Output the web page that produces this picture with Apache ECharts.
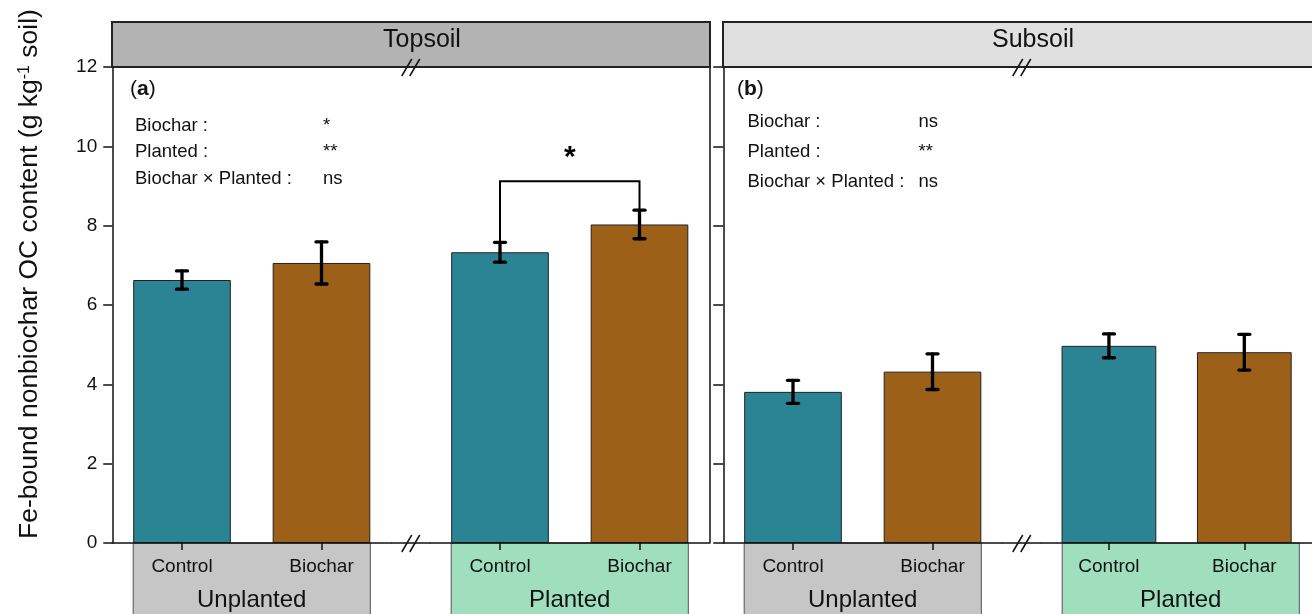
<!DOCTYPE html>
<html><head><meta charset="utf-8">
<script src="https://cdn.jsdelivr.net/npm/echarts@6/dist/echarts.min.js"></script>
<style>html,body{margin:0;padding:0;background:#fff}#c{width:1312px;height:614px}</style>
</head><body><div id="c"></div>
<script>
// ---------------- data ----------------
const treatments = ['Control', 'Biochar'];
const groups = ['Unplanted', 'Planted'];
const layers = ['Topsoil', 'Subsoil'];
const panelTags = ['a', 'b'];
const yTicks = [0, 2, 4, 6, 8, 10, 12];

const topsoilUnplanted = [6.63, 7.06];
const topsoilUnplantedErr = [0.23, 0.53];
const topsoilPlanted = [7.33, 8.03];
const topsoilPlantedErr = [0.25, 0.36];
const subsoilUnplanted = [3.81, 4.32];
const subsoilUnplantedErr = [0.29, 0.45];
const subsoilPlanted = [4.97, 4.81];
const subsoilPlantedErr = [0.30, 0.45];

const factors = ['Biochar :', 'Planted :', 'Biochar × Planted :'];
const topsoilSig = ['*', '**', 'ns'];
const subsoilSig = ['ns', '**', 'ns'];
const bracketLevel = 9.12;
const bracketLabel = '*';
const yTitle = 'Fe-bound nonbiochar OC content (g kg{sup|-1} soil)';

// ---------------- layout / style ----------------
const FONT = 'Liberation Sans, Arial, sans-serif';
const TOP = 67, BOTTOM = 543, GW = 279, GAP = 39;
const panelLeft = [112.25, 723.25];
const barColors = ['#2a8494', '#9c6019'];
const headerFill = ['#b3b3b3', '#e0e0e0'];
const groupFill = ['#c6c6c6', '#9fdfbe'];
const AX = '#111';

const panelData = [
  [[topsoilUnplanted, topsoilUnplantedErr], [topsoilPlanted, topsoilPlantedErr]],
  [[subsoilUnplanted, subsoilUnplantedErr], [subsoilPlanted, subsoilPlantedErr]]
];
const sigs = [topsoilSig, subsoilSig];

const grids = [], xAxes = [], yAxes = [], series = [], graphics = [];

function errRender(params, api) {
  const c = api.value(0), v = api.value(1), e = api.value(2);
  const hi = api.coord([c, v + e]), lo = api.coord([c, v - e]);
  const hw = 5.5;
  const st = { stroke: '#000', lineWidth: 3.3, lineCap: 'round' };
  return { type: 'group', children: [
    { type: 'line', shape: { x1: hi[0], y1: hi[1], x2: lo[0], y2: lo[1] }, style: st },
    { type: 'line', shape: { x1: hi[0] - hw, y1: hi[1], x2: hi[0] + hw, y2: hi[1] }, style: st },
    { type: 'line', shape: { x1: lo[0] - hw, y1: lo[1], x2: lo[0] + hw, y2: lo[1] }, style: st }
  ]};
}

function bracketRender(params, api) {
  const a = api.coord([api.value(0), api.value(1)]);
  const b = api.coord([api.value(2), api.value(3)]);
  const lvl = api.coord([api.value(0), api.value(4)])[1];
  return { type: 'group', children: [
    { type: 'polyline', shape: { points: [[a[0], a[1]], [a[0], lvl], [b[0], lvl], [b[0], b[1]]] },
      style: { stroke: '#000', lineWidth: 2, fill: null } },
    { type: 'text', x: (a[0] + b[0]) / 2, y: lvl - 24,
      style: { text: bracketLabel, fontSize: 30, fontWeight: 'bold', fontFamily: FONT, fill: '#000',
               textAlign: 'center', textVerticalAlign: 'middle' } }
  ]};
}

let gi = 0;
for (let p = 0; p < 2; p++) {
  for (let g = 0; g < 2; g++) {
    const left = panelLeft[p] + g * (GW + GAP);
    grids.push({ left: left, top: TOP, width: GW, height: BOTTOM - TOP });
    xAxes.push({
      type: 'category', gridIndex: gi, data: treatments, boundaryGap: true,
      axisLine: { show: true, lineStyle: { color: AX, width: 1.5 } },
      axisTick: { show: true, alignWithLabel: true, length: 7, lineStyle: { color: AX, width: 1.5 } },
      axisLabel: { fontSize: 19, color: '#111', margin: 14, fontFamily: FONT },
      z: 5
    });
    const y = { type: 'value', gridIndex: gi, min: yTicks[0], max: yTicks[yTicks.length - 1], interval: 2,
      splitLine: { show: false } };
    if (p === 0 && g === 0) {
      Object.assign(y, { axisLine: { show: true, lineStyle: { color: AX, width: 1.5 } },
        axisTick: { show: true, length: 9, lineStyle: { color: AX, width: 1.5 } },
        axisLabel: { fontSize: 19, color: '#111', margin: 15, fontFamily: FONT } });
    } else if (p === 0 && g === 1) {
      Object.assign(y, { position: 'right', axisLine: { show: true, lineStyle: { color: AX, width: 1.5 } },
        axisTick: { show: false }, axisLabel: { show: false } });
    } else if (p === 1 && g === 0) {
      Object.assign(y, { axisLine: { show: true, lineStyle: { color: AX, width: 1.5 } },
        axisTick: { show: true, length: 10, lineStyle: { color: AX, width: 1.5 } },
        axisLabel: { show: false } });
    } else {
      Object.assign(y, { axisLine: { show: false }, axisTick: { show: false }, axisLabel: { show: false } });
    }
    yAxes.push(y);

    const vals = panelData[p][g][0], errs = panelData[p][g][1];
    series.push({
      type: 'bar', xAxisIndex: gi, yAxisIndex: gi, barWidth: '70%',
      data: vals.map((v, i) => ({ value: v, itemStyle: { color: barColors[i] } })),
      itemStyle: { borderColor: '#222', borderWidth: 1 }, z: 2, silent: true
    });
    series.push({
      type: 'custom', xAxisIndex: gi, yAxisIndex: gi, renderItem: errRender, z: 4, silent: true,
      data: vals.map((v, i) => [i, v, errs[i]])
    });
    if (p === 0 && g === 1) {
      series.push({
        type: 'custom', xAxisIndex: gi, yAxisIndex: gi, renderItem: bracketRender, z: 4, silent: true,
        data: [[0, vals[0] + errs[0], 1, vals[1] + errs[1], bracketLevel]]
      });
    }

    // group box below the axis
    const slot = GW / 2, bw = slot * 0.7;
    const bx0 = left + slot / 2 - bw / 2, bx1 = left + slot * 1.5 + bw / 2;
    graphics.push({ type: 'rect', z: -1, shape: { x: bx0, y: BOTTOM, width: bx1 - bx0, height: 80 },
      style: { fill: groupFill[g], stroke: '#555', lineWidth: 1 } });
    graphics.push({ type: 'text', z: 10, x: left + GW / 2, y: 600,
      style: { text: groups[g], fontSize: 24, fontFamily: FONT, fill: '#111', textAlign: 'center', textVerticalAlign: 'middle' } });
    gi++;
  }
  // header strip
  const pl = panelLeft[p] - 0.25;
  graphics.push({ type: 'rect', z: 1, shape: { x: pl, y: 22, width: p === 0 ? 598 : 640, height: 45 },
    style: { fill: headerFill[p], stroke: '#222', lineWidth: 2 } });
  graphics.push({ type: 'text', z: 2, x: pl + 310, y: 40,
    style: { text: layers[p], fontSize: 25, fontFamily: FONT, fill: '#111', textAlign: 'center', textVerticalAlign: 'middle' } });
  // axis segment through the break gap and break marks
  const gx0 = panelLeft[p] + GW, gx1 = gx0 + GAP, bxm = (gx0 + gx1) / 2;
  graphics.push({ type: 'line', z: 5, shape: { x1: gx0, y1: BOTTOM, x2: gx1, y2: BOTTOM }, style: { stroke: AX, lineWidth: 1.5 } });
  [TOP, BOTTOM].forEach(yy => {
    [-4, 4].forEach(off => {
      graphics.push({ type: 'line', z: 6, shape: { x1: bxm + off - 5, y1: yy + 9, x2: bxm + off + 5, y2: yy - 8 },
        style: { stroke: '#111', lineWidth: 1.5 } });
    });
  });
  // panel tag and stats
  const tagX = p === 0 ? 130 : 737;
  const labX = p === 0 ? 135 : 747.5;
  const valX = p === 0 ? 323 : 918.5;
  const rowY = p === 0 ? [126, 152, 179] : [122, 152, 182];
  graphics.push({ type: 'text', z: 10, x: tagX, y: 89,
    style: { text: '({b|' + panelTags[p] + '})', fontSize: 21, fontFamily: FONT, fill: '#111', textVerticalAlign: 'middle',
      rich: { b: { fontWeight: 'bold', fontSize: 21, fontFamily: FONT, fill: '#111' } } } });
  factors.forEach((f, i) => {
    graphics.push({ type: 'text', z: 10, x: labX, y: rowY[i],
      style: { text: f, fontSize: 18.5, fontFamily: FONT, fill: '#111', textVerticalAlign: 'middle' } });
    graphics.push({ type: 'text', z: 10, x: valX, y: rowY[i],
      style: { text: sigs[p][i], fontSize: 18.5, fontFamily: FONT, fill: '#111', textVerticalAlign: 'middle' } });
  });
}

// y-axis title
graphics.push({ type: 'text', z: 10, x: 30, y: 274, rotation: Math.PI / 2,
  style: { text: yTitle, fontSize: 26.5, fontFamily: FONT, fill: '#111', textAlign: 'center', textVerticalAlign: 'middle',
    rich: { sup: { fontSize: 16, fontFamily: FONT, fill: '#111', verticalAlign: 'top', lineHeight: 16 } } } });

const chart = echarts.init(document.getElementById('c'), null, { renderer: 'canvas' });
chart.setOption({
  animation: false,
  backgroundColor: '#fff',
  textStyle: { fontFamily: FONT },
  grid: grids, xAxis: xAxes, yAxis: yAxes, series: series,
  graphic: { elements: graphics }
});
</script></body></html>
